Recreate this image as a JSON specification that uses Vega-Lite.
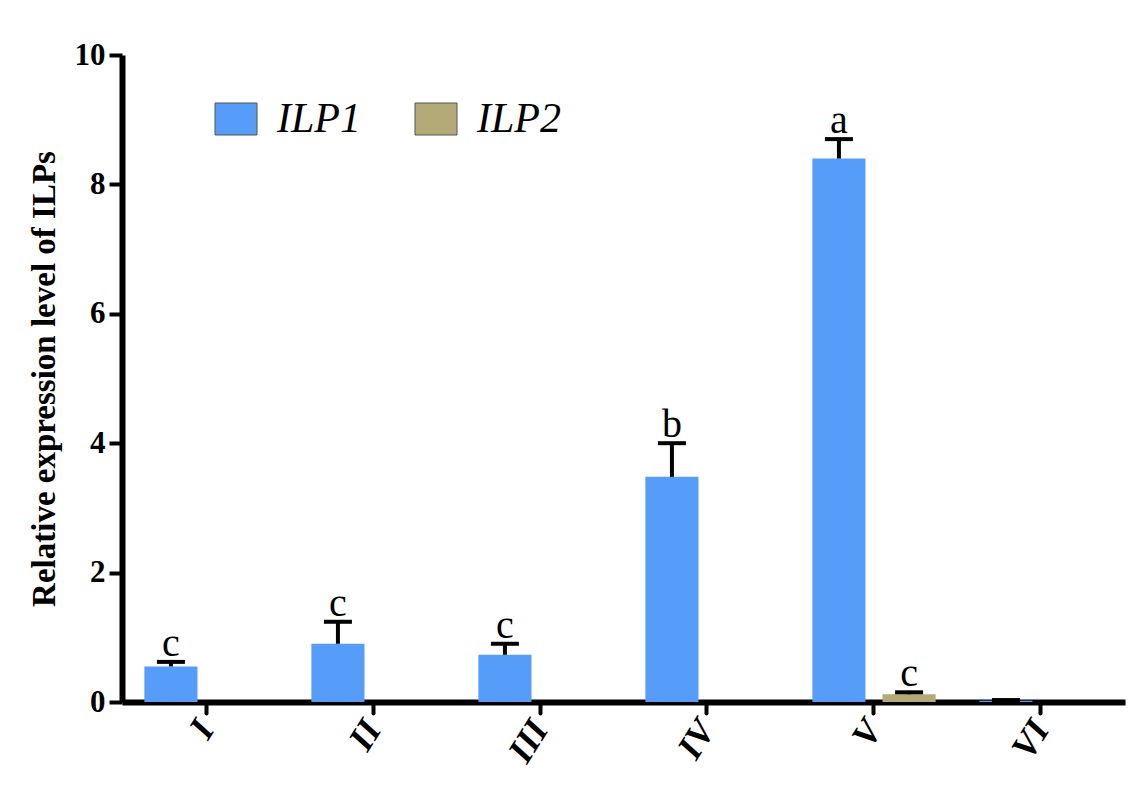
{
  "$schema": "https://vega.github.io/schema/vega-lite/v6.json",
  "width": 1003,
  "height": 647,
  "autosize": "none",
  "padding": {"left": 122, "top": 55, "right": 15, "bottom": 96},
  "background": "white",
  "config": {"view": {"stroke": null}, "font": "Liberation Serif"},
  "data": {
    "values": [
      {"stage": "I", "gene": "ILP1", "value": 0.55, "errTop": 0.62, "sig": "c"},
      {"stage": "I", "gene": "ILP2", "value": 0, "errTop": null, "sig": null},
      {"stage": "II", "gene": "ILP1", "value": 0.9, "errTop": 1.24, "sig": "c"},
      {"stage": "II", "gene": "ILP2", "value": 0, "errTop": null, "sig": null},
      {"stage": "III", "gene": "ILP1", "value": 0.73, "errTop": 0.9, "sig": "c"},
      {"stage": "III", "gene": "ILP2", "value": 0, "errTop": null, "sig": null},
      {"stage": "IV", "gene": "ILP1", "value": 3.48, "errTop": 4.0, "sig": "b"},
      {"stage": "IV", "gene": "ILP2", "value": 0, "errTop": null, "sig": null},
      {"stage": "V", "gene": "ILP1", "value": 8.4, "errTop": 8.7, "sig": "a"},
      {"stage": "V", "gene": "ILP2", "value": 0.12, "errTop": 0.15, "sig": "c"},
      {"stage": "VI", "gene": "ILP1", "value": 0.02, "errTop": 0.03, "sig": null},
      {"stage": "VI", "gene": "ILP2", "value": 0, "errTop": null, "sig": null}
    ]
  },
  "encoding": {
    "x": {
      "field": "stage",
      "type": "nominal",
      "sort": ["I", "II", "III", "IV", "V", "VI"],
      "scale": {"paddingInner": 0.16, "paddingOuter": 0.083},
      "axis": {
        "title": null,
        "domainColor": "black",
        "domainWidth": 6,
        "tickColor": "black",
        "tickWidth": 4,
        "tickSize": 11,
        "tickCap": "round",
        "labelFont": "Liberation Serif",
        "labelFontSize": 36,
        "labelFontWeight": "bold",
        "labelFontStyle": "italic",
        "labelColor": "black",
        "labelAngle": -58,
        "labelAlign": "right",
        "labelBaseline": "middle",
        "labelPadding": 10
      }
    },
    "xOffset": {
      "field": "gene",
      "type": "nominal",
      "sort": ["ILP1", "ILP2"],
      "scale": {"paddingInner": 0.243, "paddingOuter": 0.1215}
    }
  },
  "layer": [
    {
      "mark": {"type": "bar"},
      "encoding": {
        "y": {
          "field": "value",
          "type": "quantitative",
          "scale": {"domain": [0, 10]},
          "axis": {
            "title": "Relative expression level of ILPs",
            "titleFont": "Liberation Serif",
            "titleFontSize": 33,
            "titleFontWeight": "bold",
            "titleColor": "black",
            "titlePadding": 13,
            "values": [0, 2, 4, 6, 8, 10],
            "format": "d",
            "grid": false,
            "domainColor": "black",
            "domainWidth": 6,
            "tickColor": "black",
            "tickWidth": 4,
            "tickSize": 13,
            "labelFont": "Liberation Serif",
            "labelFontSize": 31,
            "labelFontWeight": "bold",
            "labelColor": "black",
            "labelPadding": 4
          }
        },
        "color": {
          "field": "gene",
          "type": "nominal",
          "scale": {"domain": ["ILP1", "ILP2"], "range": ["#559DF9", "#B3AA78"]},
          "legend": {
            "title": null,
            "orient": "none",
            "legendX": 93,
            "legendY": 43,
            "direction": "horizontal",
            "padding": 0,
            "symbolType": "M-1.3125,-1H1.3125V1H-1.3125Z",
            "symbolSize": 1024,
            "symbolStrokeColor": "#555555",
            "symbolStrokeWidth": 1,
            "symbolOpacity": 1,
            "labelFont": "Liberation Serif",
            "labelFontSize": 42,
            "labelFontStyle": "italic",
            "labelColor": "black",
            "labelOffset": 20,
            "columnPadding": 52,
            "labelLimit": 300
          }
        }
      }
    },
    {
      "transform": [{"filter": "datum.errTop != null"}],
      "mark": {"type": "rule", "color": "black", "strokeWidth": 4},
      "encoding": {
        "y": {"field": "value", "type": "quantitative"},
        "y2": {"field": "errTop"}
      }
    },
    {
      "transform": [{"filter": "datum.errTop != null"}],
      "mark": {"type": "tick", "color": "black", "thickness": 4, "size": 28, "opacity": 1},
      "encoding": {
        "y": {"field": "errTop", "type": "quantitative"}
      }
    },
    {
      "transform": [{"filter": "datum.sig != null"}],
      "mark": {"type": "text", "font": "Liberation Serif", "fontSize": 40, "color": "black", "baseline": "alphabetic", "dy": -6},
      "encoding": {
        "y": {"field": "errTop", "type": "quantitative"},
        "text": {"field": "sig"}
      }
    }
  ]
}
